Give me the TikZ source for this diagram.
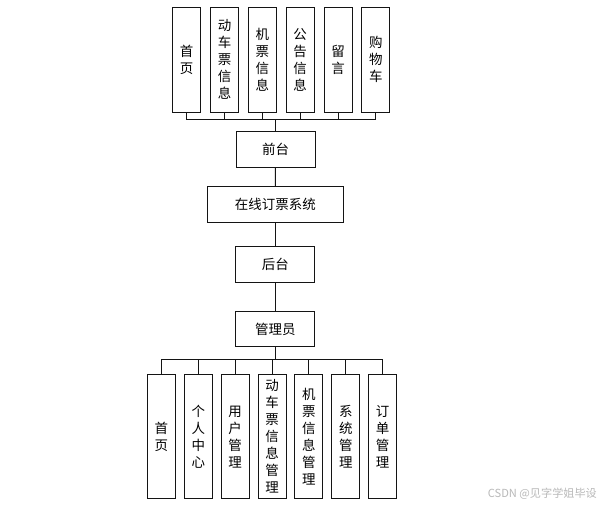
\documentclass[tikz,border=0pt]{standalone}
\usepackage{fontspec}
\newfontfamily\cjk{Noto Sans CJK SC}
\usetikzlibrary{calc}
\definecolor{xiankuang}{RGB}{20,20,20}
\definecolor{shuiyin}{RGB}{185,185,185}

\begin{document}
\begin{tikzpicture}[x=0.03cm,y=-0.03cm,
    kuang/.style={draw=xiankuang,line width=0.85pt,fill=white,align=center,
      inner sep=0pt,font=\cjk\fontsize{11.5}{14.5}\selectfont},
    shukuang/.style={kuang,minimum width=28*0.03cm},
    hengkuang/.style={kuang,minimum height=35.5*0.03cm},
    lianxian/.style={draw=xiankuang,line width=0.85pt}]

    \useasboundingbox (0,0) rectangle (601,506);

    % 背景
    \fill[white] (0,0) rectangle (601,506);

    % 中间主干
    \node[hengkuang,minimum width=79*0.03cm] (qiantai) at (275.5,149.5) {前台};
    \node[hengkuang,minimum width=136*0.03cm] (xitong) at (275.3,204.5) {在线订票系统};
    \node[hengkuang,minimum width=79*0.03cm] (houtai) at (275.3,264.3) {后台};
    \node[hengkuang,minimum width=79*0.03cm] (guanli) at (275.3,329) {管理员};

    \draw[lianxian] (qiantai) -- (xitong);
    \draw[lianxian] (xitong) -- (houtai);
    \draw[lianxian] (houtai) -- (guanli);

    % 前台功能
    \foreach \i/\x/\txt in {1/186.7/首\\页, 2/224.7/动\\车\\票\\信\\息,
        3/262.3/机\\票\\信\\息, 4/300/公\\告\\信\\息,
        5/338/留\\言, 6/375.8/购\\物\\车}{
      \node[shukuang,minimum height=105*0.03cm] (qt\i) at (\x,59.5) {\txt};
    }
    \coordinate (qbus) at (275.5,119);
    \draw[lianxian] (qiantai) -- (qbus);
    \foreach \i in {1,...,6}
      \draw[lianxian] (qt\i.south) |- (qbus);

    % 后台功能
    \foreach \i/\x/\txt in {1/161.3/首\\页, 2/198.3/个\\人\\中\\心,
        3/235.2/用\\户\\管\\理, 4/272/动\\车\\票\\信\\息\\管\\理,
        5/308.8/机\\票\\信\\息\\管\\理, 6/345.8/系\\统\\管\\理,
        7/382.7/订\\单\\管\\理}{
      \node[shukuang,minimum height=123.5*0.03cm] (ht\i) at (\x,436.7) {\txt};
    }
    \coordinate (hbus) at (275.3,359.3);
    \draw[lianxian] (guanli) -- (hbus);
    \foreach \i in {1,...,7}
      \draw[lianxian] (ht\i.north) |- (hbus);

    % 水印
    \node[anchor=east,text=shuiyin,inner sep=0pt,
      font=\cjk\fontsize{9.5}{11}\selectfont] (sy) at (597,494) {CSDN @见字学姐毕设};

\end{tikzpicture}
\end{document}
